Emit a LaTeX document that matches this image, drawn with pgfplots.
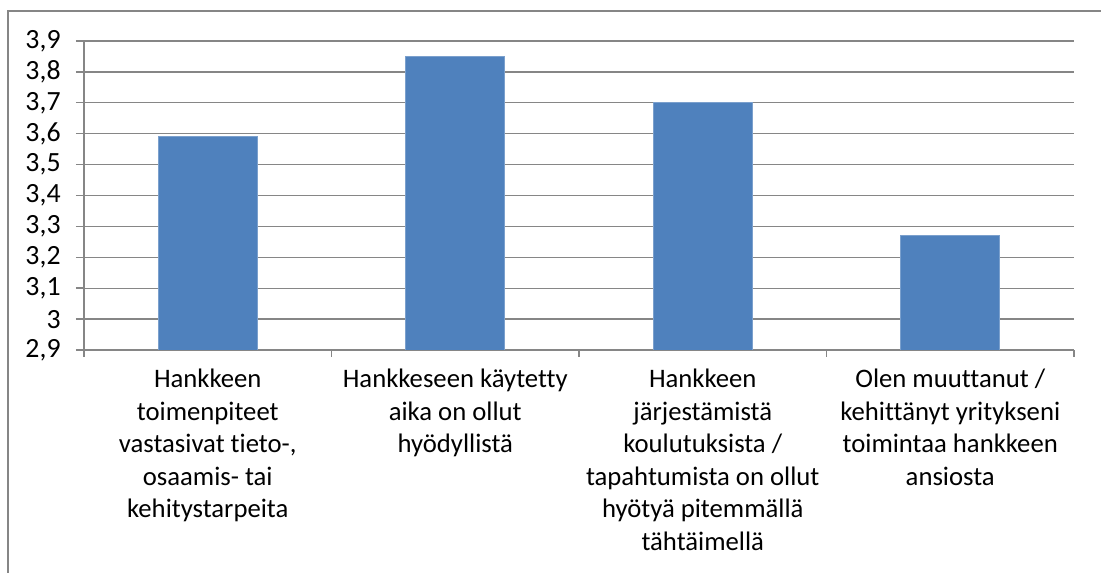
\documentclass[border=0pt]{standalone}
\usepackage{fontspec}
\setmainfont{Carlito}[Ligatures={NoCommon}]
\usepackage{pgfplots}
\pgfplotsset{compat=1.18}
\definecolor{barblue}{HTML}{4F81BD}
\definecolor{gridgray}{HTML}{868686}
\begin{document}
\begin{tikzpicture}
\useasboundingbox (0,0) rectangle (550.5pt,286pt);
\draw[gridgray, line width=0.75pt] (4pt,-1pt) -- (4pt,280.5pt) -- (552pt,280.5pt);
\begin{axis}[
  at={(42pt,111pt)}, anchor=south west,
  scale only axis, width=495pt, height=154.5pt,
  ymin=2.9, ymax=3.9,
  ytick={2.9,3.0,3.1,3.2,3.3,3.4,3.5,3.6,3.7,3.8,3.9},
  xmin=-0.5, xmax=3.5,
  axis lines*=left,
  axis line style={gridgray, line width=0.7pt},
  tick align=outside,
  major tick length=4pt,
  minor tick length=3.5pt,
  tick style={gridgray, line width=0.7pt},
  major x tick style={draw=none},
  xtick={0,1,2,3},
  minor xtick={-0.5,0.5,1.5,2.5,3.5},
  ymajorgrids,
  grid style={gridgray, line width=0.65pt},
  ybar, bar width=0.4,
  /pgf/number format/.cd, use comma, fixed, precision=1, assume math mode=true, /pgfplots/.cd,
  yticklabel style={font=\fontsize{13.9}{16.25}\selectfont, text=black, inner sep=0pt, xshift=-7.5pt},
  xticklabel style={font=\fontsize{13.35}{16.25}\selectfont, text=black, align=center, inner sep=0pt, yshift=-5.5pt},
  xticklabels={{Hankkeen\\toimenpiteet\\vastasivat tieto-,\\osaamis- tai\\kehitystarpeita},
               {Hankkeseen käytetty\\aika on ollut\\hyödyllistä},
               {Hankkeen\\järjestämistä\\koulutuksista /\\tapahtumista on ollut\\hyötyä pitemmällä\\tähtäimellä},
               {Olen muuttanut /\\kehittänyt yritykseni\\toimintaa hankkeen\\ansiosta}},
]
\addplot[fill=barblue, draw=barblue!75!white, line width=0.4pt] coordinates {(0,3.59) (1,3.85) (2,3.70) (3,3.27)};
\end{axis}
\end{tikzpicture}
\end{document}
